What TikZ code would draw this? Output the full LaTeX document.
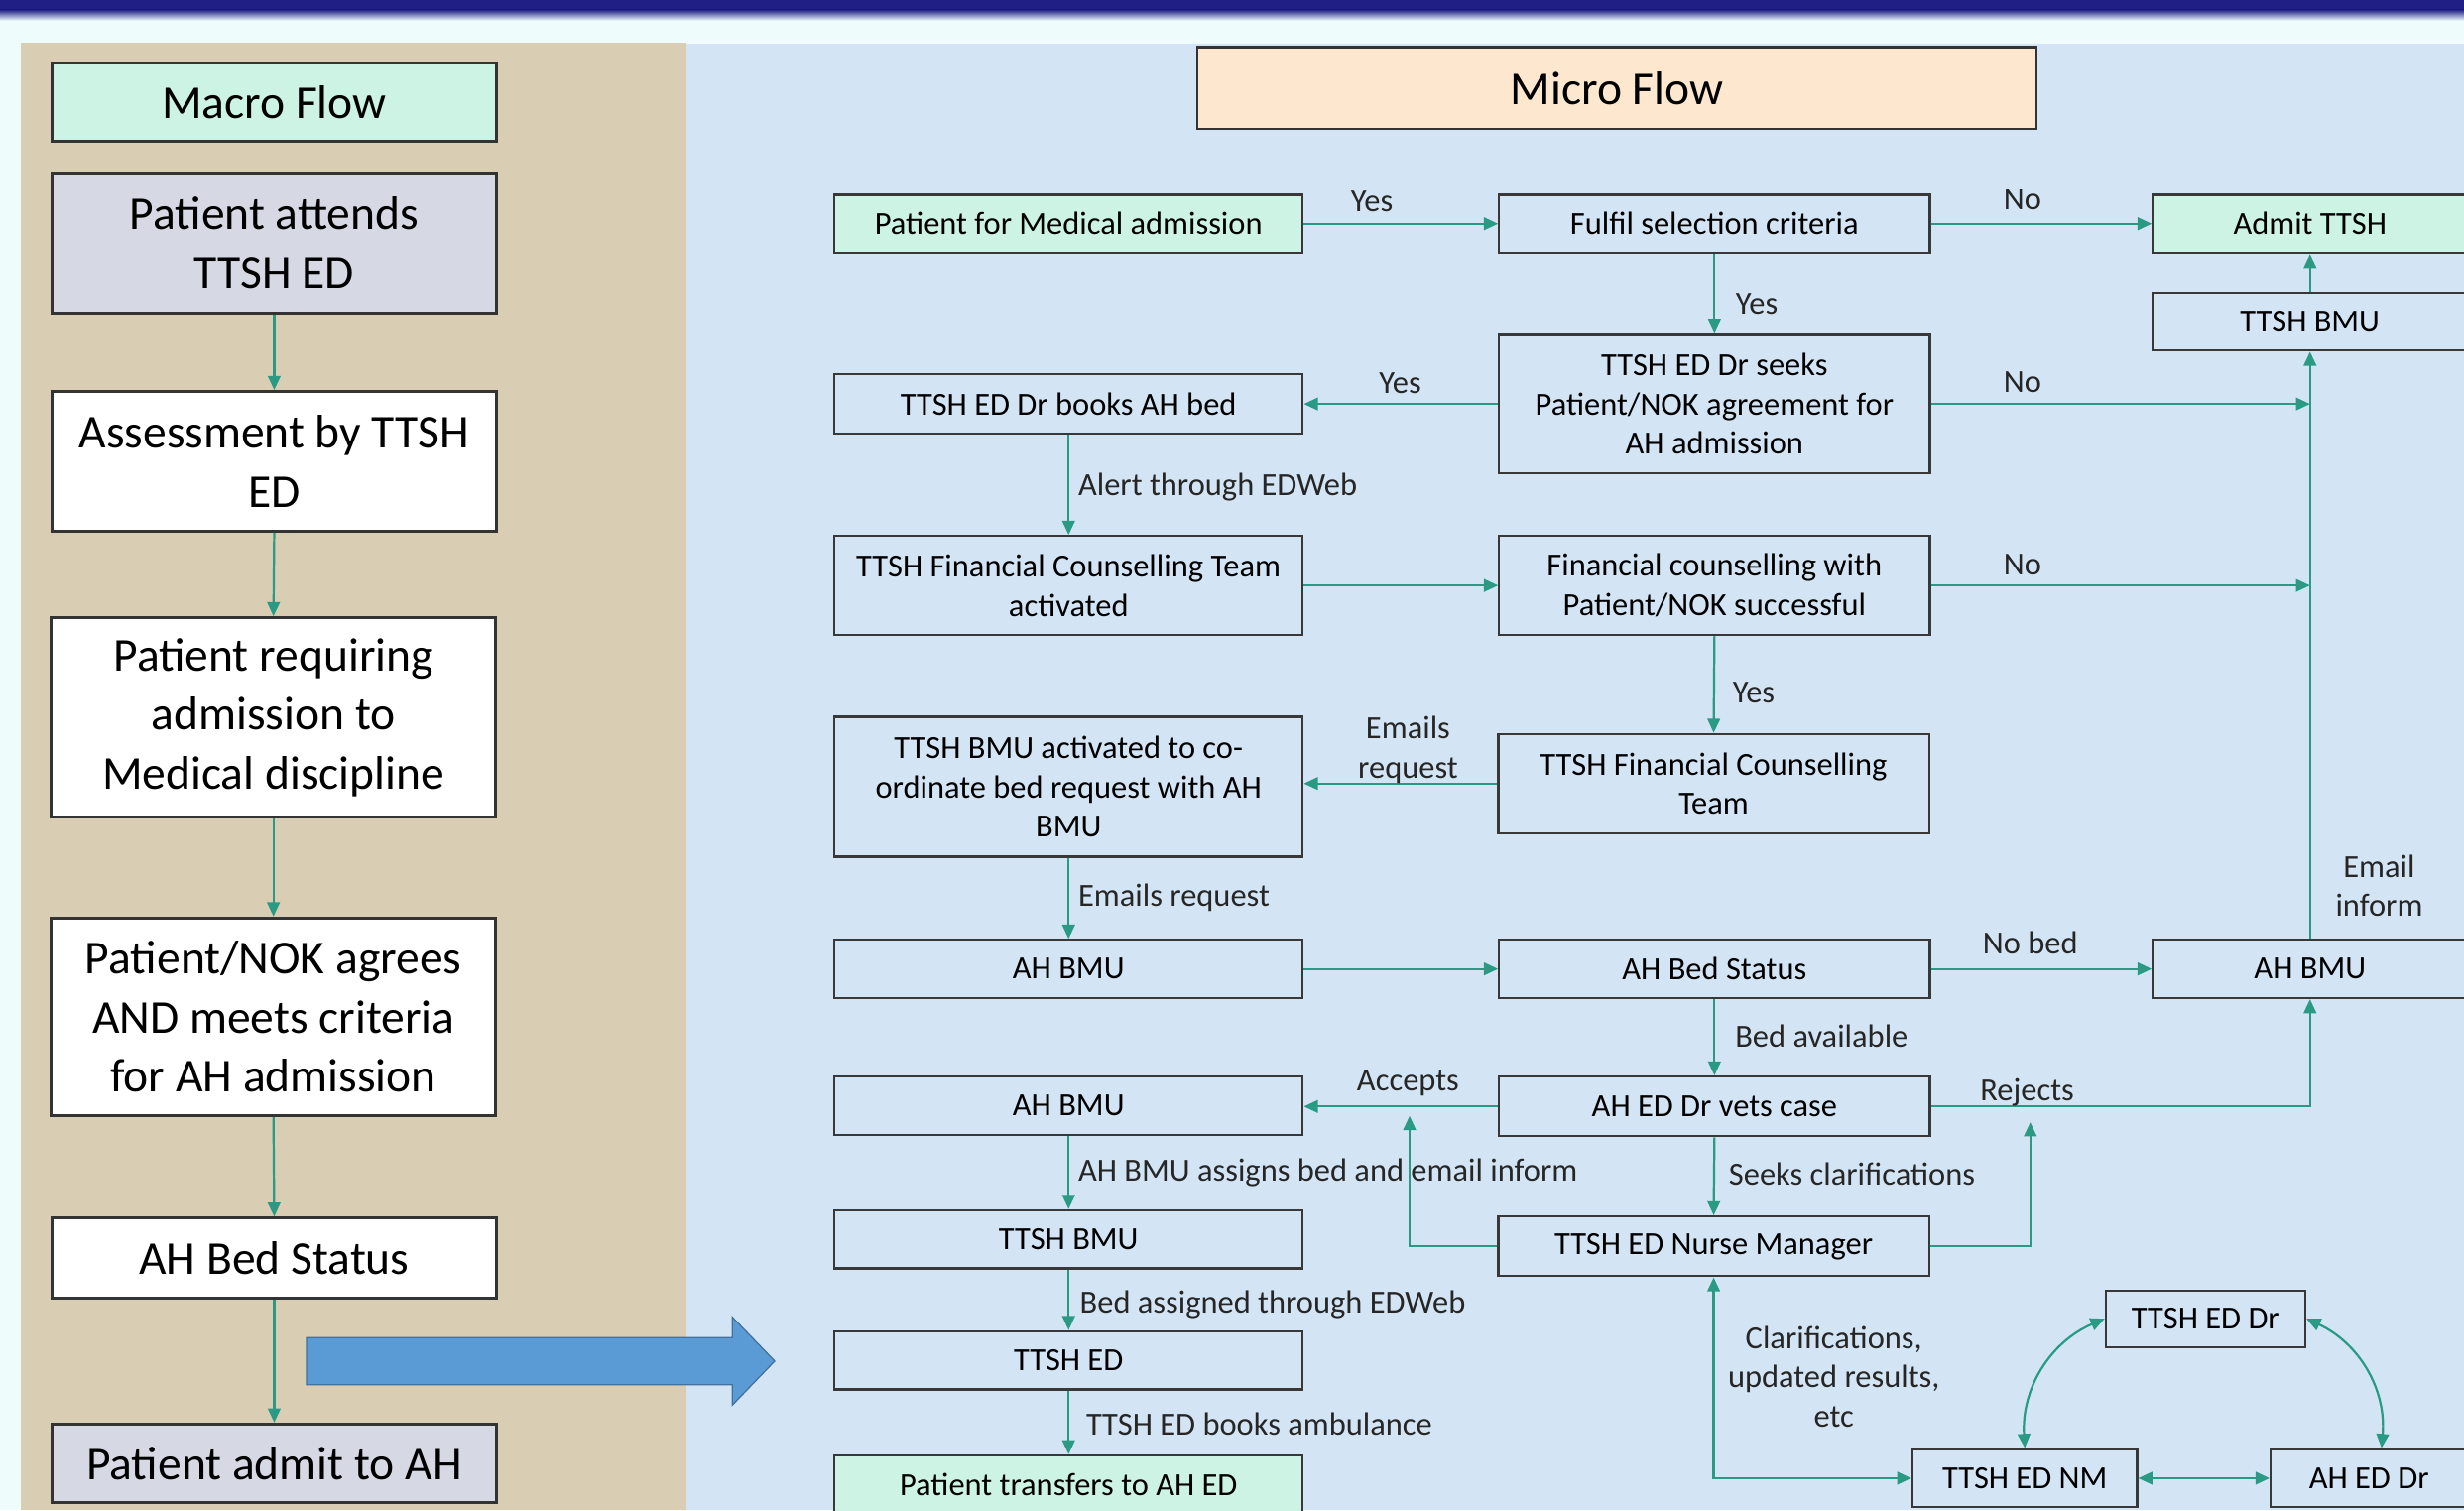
\documentclass[tikz,border=0pt]{standalone}
\usepackage{fontspec}
\setmainfont{Carlito}
\usetikzlibrary{arrows.meta,calc}
\definecolor{navy}{HTML}{1F1F85}
\definecolor{lcyan}{HTML}{EEFCFC}
\definecolor{beige}{HTML}{D9CEB4}
\definecolor{bluebg}{HTML}{D3E5F4}
\definecolor{mint}{HTML}{CDF3E4}
\definecolor{peach}{HTML}{FDE7CE}
\definecolor{greybox}{HTML}{D6D9E3}
\definecolor{flowc}{HTML}{2B9A85}
\definecolor{bigarrow}{HTML}{5B9BD5}
\definecolor{bigarrowedge}{HTML}{41719C}
\tikzset{
  macrobox/.style={draw=black!80, line width=1.8pt, align=center, inner sep=0pt,
    font=\fontsize{30}{37.5}\selectfont, minimum width=283pt},
  microbox/.style={draw=black!78, line width=1.4pt, align=center, inner sep=0pt,
    font=\fontsize{20.5}{25}\selectfont},
  colA/.style={microbox, minimum width=298pt},
  colB/.style={microbox, minimum width=274pt},
  colC/.style={microbox, minimum width=200pt},
  flow/.style={draw=flowc, line width=1.4pt, -{Triangle[length=9pt,width=8pt]}},
  flowtwo/.style={draw=flowc, line width=1.4pt, {Triangle[length=9pt,width=8pt]}-{Triangle[length=9pt,width=8pt]}},
  lbl/.style={font=\fontsize{20.5}{25}\selectfont, align=center, inner sep=0pt, text=black!85},
}
\begin{document}
\begin{tikzpicture}[x=1pt,y=-1pt]
\useasboundingbox (0,0) rectangle (1568,961);
% background
\fill[lcyan] (0,0) rectangle (1568,961);
\fill[navy] (0,0) rectangle (1568,6);
\shade[top color=navy, bottom color=lcyan] (0,6) rectangle (1568,13);
\fill[beige] (13,27) rectangle (437,961);
\fill[bluebg] (437,28) rectangle (1568,961);

% macro column
\node[macrobox, fill=mint, minimum height=50pt] (mflow) at (174.5,65) {Macro Flow};
\node[macrobox, fill=greybox, minimum height=89pt] (m1) at (174.5,154.5) {Patient attends\\TTSH ED};
\node[macrobox, fill=white, minimum height=89pt] (m2) at (174.5,293.5) {Assessment by TTSH\\ED};
\node[macrobox, fill=white, minimum height=127pt] (m3) at (174,456.5) {Patient requiring\\admission to\\Medical discipline};
\node[macrobox, fill=white, minimum height=126pt] (m4) at (174,647) {Patient/NOK agrees\\AND meets criteria\\for AH admission};
\node[macrobox, fill=white, minimum height=51pt] (m5) at (174.5,800.5) {AH Bed Status};
\node[macrobox, fill=greybox, minimum height=50pt] (m6) at (174.5,931) {Patient admit to AH};
\foreach \a/\b in {m1/m2,m2/m3,m3/m4,m4/m5,m5/m6}
  \draw[flow] (\a.south) -- (\b.north);

% big blue arrow
\filldraw[fill=bigarrow, draw=bigarrowedge, line width=0.8pt]
  (195,851) -- (466,851) -- (466,838) -- (493,866) -- (466,894) -- (466,881) -- (195,881) -- cycle;

% micro title
\node[macrobox, fill=peach, minimum width=534pt, minimum height=52pt, line width=1.6pt] (mtitle) at (1029,56) {Micro Flow};

% micro boxes
\node[colA, fill=mint, minimum height=37pt] (a1) at (680,142.5) {Patient for Medical admission};
\node[colB, minimum height=37pt] (b1) at (1091,142.5) {Fulfil selection criteria};
\node[colC, fill=mint, minimum height=37pt] (c1) at (1470,142.5) {Admit TTSH};
\node[colC, minimum height=37pt] (c2) at (1470,204.5) {TTSH BMU};
\node[colB, minimum height=88pt] (b2) at (1091,257) {TTSH ED Dr seeks\\Patient/NOK agreement for\\AH admission};
\node[colA, minimum height=38pt] (a2) at (680,257) {TTSH ED Dr books AH bed};
\node[colA, minimum height=63pt] (a3) at (680,372.5) {TTSH Financial Counselling Team\\activated};
\node[colB, minimum height=63pt] (b3) at (1091,372.5) {Financial counselling with\\Patient/NOK successful};
\node[colA, minimum height=89pt] (a4) at (680,500.5) {TTSH BMU activated to co-\\ordinate bed request with AH\\BMU};
\node[colB, minimum height=63pt] (b4) at (1090.5,498.5) {TTSH Financial Counselling\\Team};
\node[colA, minimum height=37pt] (a5) at (680,616.5) {AH BMU};
\node[colB, minimum height=37pt] (b5) at (1091,616.5) {AH Bed Status};
\node[colC, minimum height=37pt] (c5) at (1470,616.5) {AH BMU};
\node[colA, minimum height=37pt] (a6) at (680,703.5) {AH BMU};
\node[colB, minimum height=38pt] (b6) at (1091,704) {AH ED Dr vets case};
\node[colA, minimum height=37pt] (a7) at (680,788.5) {TTSH BMU};
\node[colB, minimum height=38pt] (b7) at (1090.5,793) {TTSH ED Nurse Manager};
\node[colA, minimum height=37pt] (a8) at (680,865.5) {TTSH ED};
\node[colA, fill=mint, minimum height=37pt] (a9) at (680,944.5) {Patient transfers to AH ED};
\node[microbox, minimum width=127pt, minimum height=36pt] (d1) at (1403.5,839) {TTSH ED Dr};
\node[microbox, minimum width=143pt, minimum height=37pt] (d2) at (1288.5,940.5) {TTSH ED NM};
\node[microbox, minimum width=125pt, minimum height=37pt] (d3) at (1507.5,940.5) {AH ED Dr};

% connectors
\draw[flow] (a1.east) -- (b1.west);
\node[lbl] (lyes1) at (873,128) {Yes};
\draw[flow] (b1.east) -- (c1.west);
\node[lbl] (lno1) at (1287,127) {No};
\draw[flow] (c2.north) -- (c1.south);
\draw[flow] (b1.south) -- (b2.north);
\node[lbl] (lyes2) at (1118,193) {Yes};
\draw[flow] (b2.west) -- (a2.east);
\node[lbl] (lyes3) at (891,244) {Yes};
\coordinate (j1) at (b2.east -| c2.south);
\draw[flow] (b2.east) -- (j1);
\node[lbl] (lno2) at (1287,243) {No};
\draw[flow] (c5.north) -- (c2.south);
\node[lbl] (lemail) at (1514,563.5) {Email\\inform};
\draw[flow] (a2.south) -- (a3.north);
\node[lbl, anchor=west] (lalert) at (686,310) {Alert through EDWeb};
\draw[flow] (a3.east) -- (b3.west);
\coordinate (j2) at (b3.east -| c2.south);
\draw[flow] (b3.east) -- (j2);
\node[lbl] (lno3) at (1287,359) {No};
\draw[flow] (b3.south) -- (b4.north);
\node[lbl] (lyes4) at (1116,441) {Yes};
\draw[flow] (b4.west) -- (b4.west -| a4.east);
\node[lbl] (lemreq1) at (896,477) {Emails\\request};
\draw[flow] (a4.south) -- (a5.north);
\node[lbl, anchor=west] (lemreq2) at (686,571) {Emails request};
\draw[flow] (a5.east) -- (b5.west);
\draw[flow] (b5.east) -- (c5.west);
\node[lbl] (lnobed) at (1292,600) {No bed};
\draw[flow] (b5.south) -- (b6.north);
\node[lbl, anchor=west] (lbedav) at (1104,659) {Bed available};
\draw[flow] (b6.west) -- (b6.west -| a6.east);
\node[lbl] (laccepts) at (896,689) {Accepts};
\draw[flow] (b6.east) -- (b6.east -| c5.south) -- (c5.south);
\node[lbl] (lrejects) at (1290,695) {Rejects};
\draw[flow] (b6.south) -- (b7.north);
\node[lbl, anchor=west] (lseeks) at (1100,747) {Seeks clarifications};
\draw[flow] (a6.south) -- (a7.north);
\node[lbl, anchor=west] (lassign) at (686,746) {AH BMU assigns bed and email inform};
\coordinate (acc) at (897,710);
\draw[flow] (b7.west) -- (b7.west -| acc) -- (acc);
\coordinate (rej) at (1292,714);
\draw[flow] (b7.east) -- (b7.east -| rej) -- (rej);
\draw[flow] (a7.south) -- (a8.north);
\node[lbl, anchor=west] (lbedas) at (687,830) {Bed assigned through EDWeb};
\draw[flow] (a8.south) -- (a9.north);
\node[lbl, anchor=west] (lamb) at (691,906) {TTSH ED books ambulance};
\draw[flowtwo] (b7.south) |- (d2.west);
\node[lbl] (lclar) at (1167,876) {Clarifications,\\updated results,\\etc};
\draw[flowtwo] (d2.north) to[bend left=35] (d1.west);
\draw[flowtwo] (d1.east) to[bend left=35] ($(d3.north)+(8,0)$);
\draw[flowtwo] (d2.east) -- (d3.west);
\end{tikzpicture}
\end{document}
